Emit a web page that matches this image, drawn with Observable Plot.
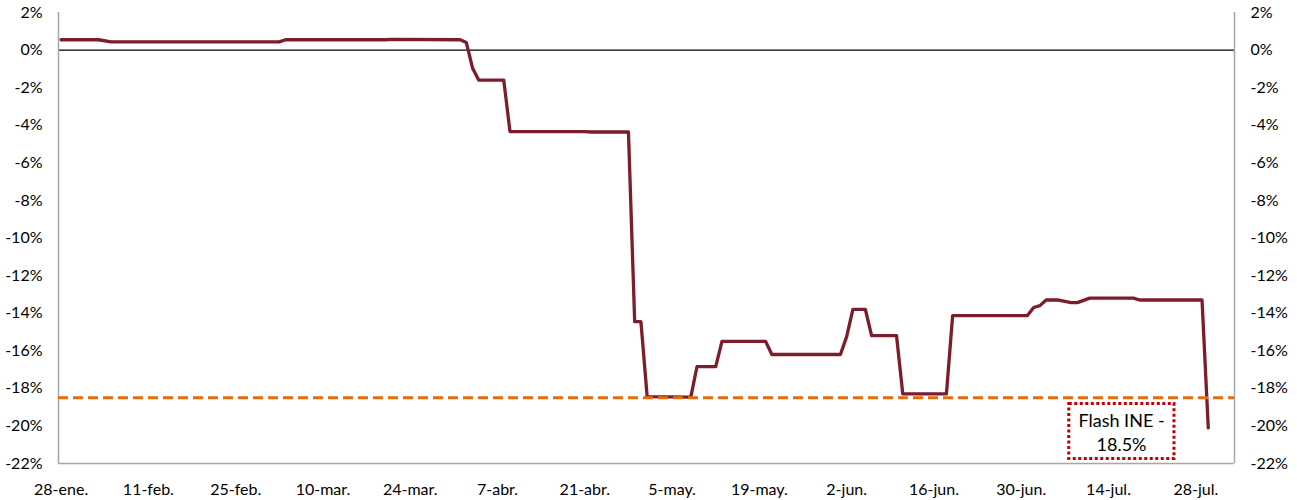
<!DOCTYPE html>
<html><head><meta charset="utf-8">
<script src="https://cdn.jsdelivr.net/npm/d3@7"></script>
<script src="https://cdn.jsdelivr.net/npm/@observablehq/plot@0.6"></script>
<style>body{margin:0;background:#fff;} svg{display:block;}</style>
</head><body><div id="chart"></div>
<script>
// Series vertices (date, %)
const dates = ["2020-01-28","2020-02-03","2020-02-05","2020-03-03","2020-03-04","2020-03-20","2020-03-21",
  "2020-04-01","2020-04-02","2020-04-03","2020-04-04","2020-04-08","2020-04-09","2020-04-21","2020-04-22","2020-04-28",
  "2020-04-29","2020-04-30","2020-05-01","2020-05-08","2020-05-09","2020-05-12","2020-05-13","2020-05-20",
  "2020-05-21","2020-06-01","2020-06-02","2020-06-03","2020-06-05","2020-06-06","2020-06-10","2020-06-11",
  "2020-06-18","2020-06-19","2020-07-01","2020-07-02","2020-07-03","2020-07-04","2020-07-06","2020-07-08",
  "2020-07-09","2020-07-11","2020-07-18","2020-07-19","2020-07-29","2020-07-30"];
const values = [0.55,0.55,0.44,0.44,0.55,0.55,0.57,
  0.55,0.4,-0.96,-1.6,-1.6,-4.34,-4.34,-4.36,-4.36,
  -14.45,-14.45,-18.44,-18.47,-16.84,-16.84,-15.5,-15.5,
  -16.2,-16.2,-15.25,-13.8,-13.8,-15.2,-15.2,-18.3,
  -18.3,-14.13,-14.13,-13.7,-13.6,-13.3,-13.3,-13.44,
  -13.44,-13.2,-13.2,-13.3,-13.3,-20.1];

const tickDates = ["2020-01-28","2020-02-11","2020-02-25","2020-03-10","2020-03-24","2020-04-07","2020-04-21",
  "2020-05-05","2020-05-19","2020-06-02","2020-06-16","2020-06-30","2020-07-14","2020-07-28"];
const tickLabels = ["28-ene.","11-feb.","25-feb.","10-mar.","24-mar.","7-abr.","21-abr.","5-may.","19-may.",
  "2-jun.","16-jun.","30-jun.","14-jul.","28-jul."];
const yTicks = [2,0,-2,-4,-6,-8,-10,-12,-14,-16,-18,-20,-22];

const xDomainStr = ["2020-01-27T14:00:00Z","2020-08-03T05:00:00Z"];
const yDomain = [-22, 2];

// Flash INE reference and annotation
const flashValue = -18.5;
const flashLabel = "Flash INE -\n18.5%";
const flashLabelDate = "2020-07-16T02:00:00Z";
const flashLabelValue = -20.27;
const flashBox = {x1: "2020-07-07T17:00:00Z", x2: "2020-07-24T14:00:00Z", y1: -18.83, y2: -21.76};

const data = dates.map((d, i) => ({date: new Date(d), value: values[i]}));
const ticks = tickDates.map(d => new Date(d));
const labelByTime = new Map(ticks.map((t, i) => [+t, tickLabels[i]]));
const xDomain = xDomainStr.map(d => new Date(d));

const chart = Plot.plot({
  width: 1297,
  height: 500,
  marginLeft: 58,
  marginRight: 63,
  marginTop: 12,
  marginBottom: 37,
  style: {fontFamily: "Lato, sans-serif", fontSize: "16px", color: "#000", background: "#fff"},
  x: {type: "utc", domain: xDomain},
  y: {domain: yDomain},
  marks: [
    Plot.ruleY([0], {stroke: "#000", strokeWidth: 1.2}),
    Plot.ruleY([yDomain[0]], {stroke: "#a6a6a6", strokeWidth: 1.5}),
    Plot.ruleX(xDomain, {stroke: "#a6a6a6", strokeWidth: 1.5}),
    Plot.line(data, {x: "date", y: "value", stroke: "#7b1d2b", strokeWidth: 3.3, strokeLinejoin: "round", curve: "linear"}),
    Plot.ruleY([flashValue], {stroke: "#e46c0a", strokeWidth: 3, strokeDasharray: "10,5"}),
    Plot.rect([flashBox], {x1: d => new Date(d.x1), x2: d => new Date(d.x2), y1: "y1", y2: "y2",
      fill: "#fff", stroke: "#c00000", strokeWidth: 3, strokeDasharray: "3,2.5"}),
    Plot.text([flashLabel], {x: () => new Date(flashLabelDate), y: () => flashLabelValue, text: d => d,
      fontSize: 18, lineHeight: 1.33, fill: "#000", textAnchor: "middle"}),
    Plot.axisX({ticks: ticks, tickFormat: d => labelByTime.get(+d), tickSize: 0, tickPadding: 20, fontSize: 16, fill: "#000"}),
    Plot.axisY({anchor: "left", ticks: yTicks, tickFormat: d => `${d}%`, tickSize: 0, tickPadding: 16, fontSize: 16, fill: "#000"}),
    Plot.axisY({anchor: "right", ticks: yTicks, tickFormat: d => `${d}%`, tickSize: 0, tickPadding: 16, fontSize: 16, fill: "#000"})
  ]
});
document.getElementById("chart").appendChild(chart);
</script>
</body></html>
